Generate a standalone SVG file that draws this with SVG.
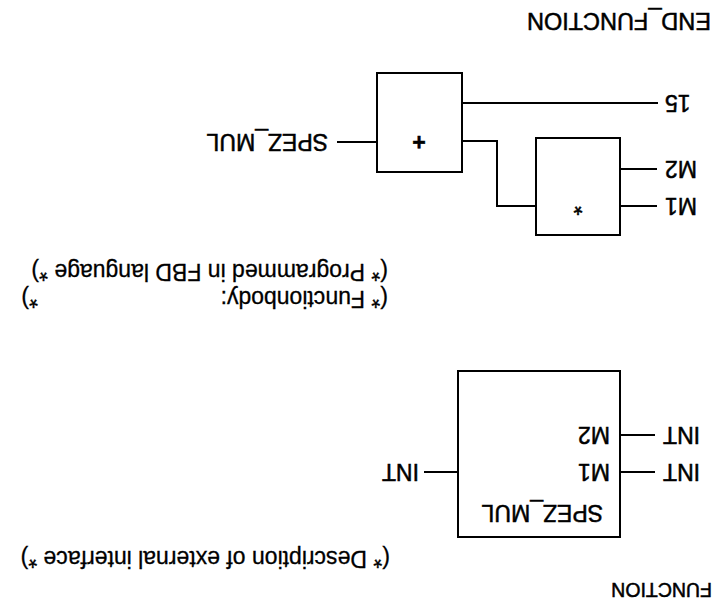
<svg xmlns="http://www.w3.org/2000/svg" width="718" height="605" viewBox="0 0 718 605">
<style>
  .ln { stroke:#000; stroke-width:2; fill:none; }
  .box { stroke:#000; stroke-width:2; fill:#fff; }
  .t { font-family:"Liberation Sans", Arial, Helvetica, sans-serif; font-size:23px; fill:#000; stroke:#000; stroke-width:0.5; }
  .c { font-family:"Liberation Sans", Arial, Helvetica, sans-serif; font-size:23px; fill:#000; stroke:#000; stroke-width:0.3; }
</style>
<rect width="718" height="605" fill="#fff"/>
<g transform="rotate(180 359 302.5)">
  <g id="kw-function"><text class="t" x="6" y="22" style="font-size:19.5px">FUNCTION</text></g>
  <g id="comment-interface"><text class="c" x="328" y="54">(* Description of external interface *)</text></g>

  <g id="decl-spez-mul">
    <rect class="box" x="98" y="68" width="162" height="166"/>
    <text class="t" x="115" y="100">SPEZ_MUL</text>
    <text class="t" x="108" y="141.5">M1</text>
    <text class="t" x="108" y="178.5">M2</text>
    <line class="ln" x1="63" y1="133" x2="98" y2="133"/>
    <line class="ln" x1="63" y1="170" x2="98" y2="170"/>
    <line class="ln" x1="260" y1="133" x2="294" y2="133"/>
    <text class="t" x="55" y="141.5" text-anchor="end">INT</text>
    <text class="t" x="55" y="178.5" text-anchor="end">INT</text>
    <text class="t" x="299" y="141.5">INT</text>
  </g>

  <g id="comment-body">
    <text class="c" x="330" y="314">(* Functionbody:<tspan x="680">*)</tspan></text>
    <text class="c" x="330" y="341">(* Programmed in FBD language *)</text>
  </g>

  <g id="var-m1"><text class="t" x="53" y="407.5" text-anchor="end">M1</text></g>
  <g id="var-m2"><text class="t" x="53" y="444.5" text-anchor="end">M2</text></g>
  <g id="const-15"><text class="t" x="53" y="510.5" text-anchor="end">15</text></g>

  <g id="fb-mul">
    <rect class="box" x="98" y="370" width="84" height="97"/>
    <text class="t" x="140" y="407" text-anchor="middle">*</text>
  </g>

  <g id="fb-add">
    <rect class="box" x="256" y="433" width="85" height="99"/>
    <text class="t" x="299" y="471" text-anchor="middle" style="font-weight:bold">+</text>
  </g>

  <g id="out-spez-mul"><text class="t" x="390" y="471">SPEZ_MUL</text></g>

  <g id="connectors">
    <line class="ln" x1="61" y1="399" x2="98" y2="399"/>
    <line class="ln" x1="61" y1="436" x2="98" y2="436"/>
    <line class="ln" x1="60" y1="502" x2="256" y2="502"/>
    <polyline class="ln" points="182,399 221,399 221,464 256,464"/>
    <line class="ln" x1="341" y1="463" x2="381" y2="463"/>
  </g>

  <g id="kw-end-function"><text class="t" x="7" y="592" style="font-size:23.5px">END_FUNCTION</text></g>
</g>
</svg>
